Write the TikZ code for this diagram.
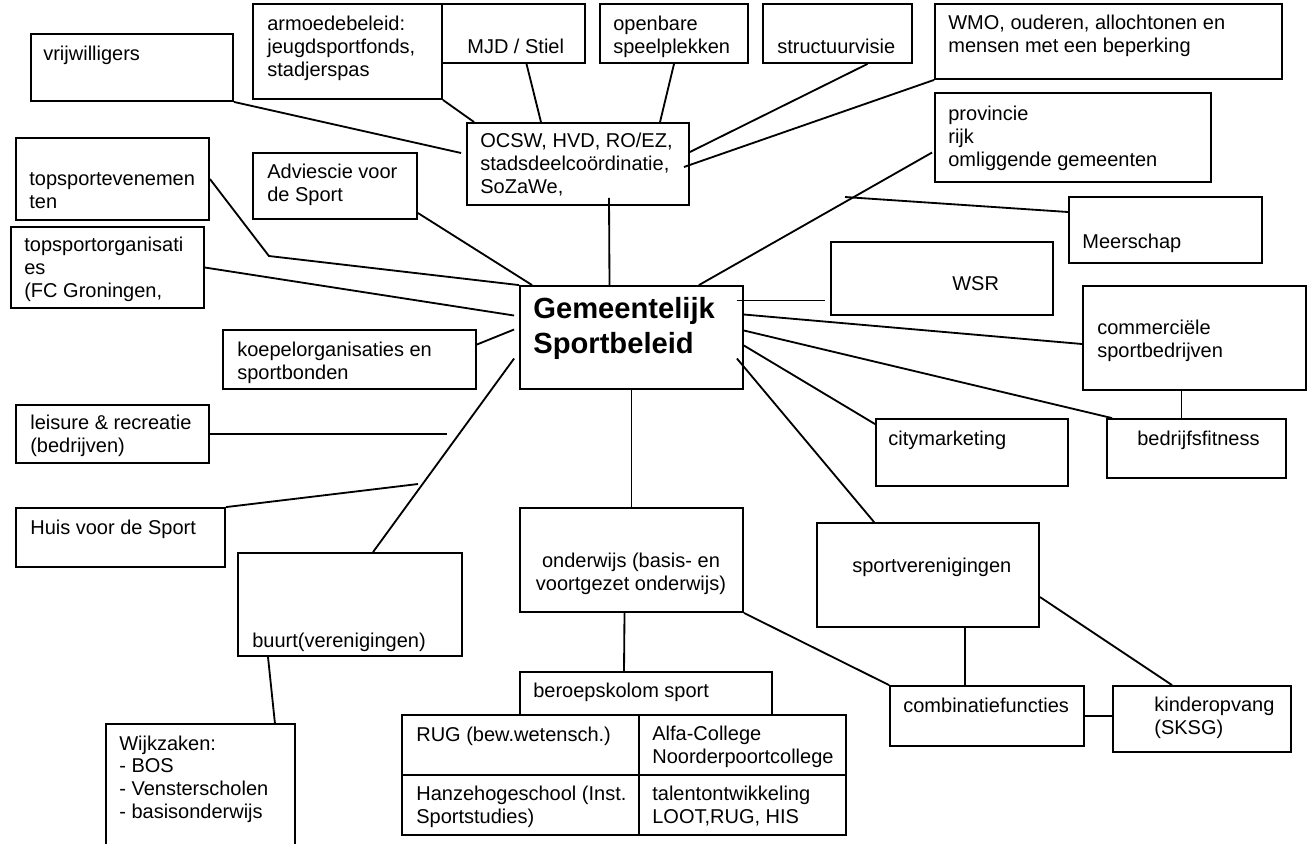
\documentclass[tikz,border=0pt]{standalone}
\usepackage{fontspec}
\setmainfont{Liberation Sans}
\usetikzlibrary{fit}

\tikzset{
  box/.style={draw, line width=1.1pt, inner sep=0pt},
  txt/.style={anchor=base west, inner sep=0pt, align=left,
    font=\fontsize{12pt}{13.6pt}\selectfont},
  link/.style={line width=1.1pt},
}

\begin{document}
\begin{tikzpicture}[x=0.6pt, y=-0.6pt]
  \useasboundingbox (0,0) rectangle (1313,843);
  \fill[white] (0,0) rectangle (1313,843);

  % kaders
  \node[box, fit={(31,34) (233,101)}] (vrij) {};
  \node[box, fit={(253,4) (442,99)}] (arm) {};
  \node[box, fit={(442,4) (585,63)}] (mjd) {};
  \node[box, fit={(600,4) (748,63)}] (open) {};
  \node[box, fit={(763,4) (912,63)}] (struc) {};
  \node[box, fit={(935,4) (1282,79)}] (wmo) {};
  \node[box, fit={(467,123) (689,205)}] (ocsw) {};
  \node[box, fit={(935,93) (1211,182)}] (prov) {};
  \node[box, fit={(253,153) (417,219)}] (adv) {};
  \node[box, fit={(16,138) (209,220)}] (tev) {};
  \node[box, fit={(11,227) (204,308)}] (tor) {};
  \node[box, fit={(1069,197) (1262,263)}] (meer) {};
  \node[box, fit={(831,242) (1053,315)}] (wsr) {};
  \node[box, fit={(520,286) (743,389)}] (gem) {};
  \node[box, fit={(1083,286) (1306,390)}] (comm) {};
  \node[box, fit={(1107,419) (1286,478)}] (fitn) {};
  \node[box, fit={(876,419) (1068,486)}] (city) {};
  \node[box, fit={(223,330) (476,389)}] (koe) {};
  \node[box, fit={(16,405) (209,463)}] (leis) {};
  \node[box, fit={(16,508) (225,567)}] (huis) {};
  \node[box, fit={(238,553) (462,656)}] (buurt) {};
  \node[box, fit={(106,724) (295,860)}] (wijk) {};
  \node[box, fit={(520,508) (743,612)}] (ond) {};
  \node[box, fit={(817,523) (1039,627)}] (sv) {};
  \node[box, fit={(520,672) (772,715)}] (ber) {};
  \node[box, fit={(402,715) (639,775)}] (rug) {};
  \node[box, fit={(639,715) (846,775)}] (alfa) {};
  \node[box, fit={(402,775) (639,835)}] (hanze) {};
  \node[box, fit={(639,775) (846,835)}] (talent) {};
  \node[box, fit={(890,686) (1084,746)}] (comb) {};
  \node[box, fit={(1113,686) (1291,752)}] (kin) {};

  % teksten (bij meer regels: basislijn van de laatste regel)
  \node[txt] (vrij-t) at (43,60) {vrijwilligers};
  \node[txt] (arm-t) at (267,76) {armoedebeleid:\\jeugdsportfonds,\\stadjerspas};
  \node[txt] (mjd-t) at (467,53) {MJD / Stiel};
  \node[txt] (open-t) at (613,53) {openbare\\speelplekken};
  \node[txt] (struc-t) at (777,53) {structuurvisie};
  \node[txt] (wmo-t) at (948,52) {WMO, ouderen, allochtonen en\\mensen met een beperking};
  \node[txt] (ocsw-t) at (480,193) {OCSW, HVD, RO/EZ,\\stadsdeelcoördinatie,\\SoZaWe,};
  \node[txt] (prov-t) at (948,166) {provincie\\rijk\\omliggende gemeenten};
  \node[txt] (adv-t) at (267,201) {Adviescie voor\\de Sport};
  \node[txt] (tev-t) at (29,208) {topsportevenemen\\ten};
  \node[txt] (tor-t) at (24,297) {topsportorganisati\\es\\(FC Groningen,};
  \node[txt] (meer-t) at (1082,248) {Meerschap};
  \node[txt] (wsr-t) at (952,290) {WSR};
  \node[txt, font=\bfseries\fontsize{17.5pt}{21pt}\selectfont] (gem-t) at (533,353) {Gemeentelijk\\Sportbeleid};
  \node[txt] (comm-t) at (1097,357) {commerciële\\sportbedrijven};
  \node[txt] (fitn-t) at (1137,445) {bedrijfsfitness};
  \node[txt] (city-t) at (888,445) {citymarketing};
  \node[txt] (koe-t) at (237,379) {koepelorganisaties en\\sportbonden};
  \node[txt] (leis-t) at (30,452) {leisure \& recreatie\\(bedrijven)};
  \node[txt] (huis-t) at (30,534) {Huis voor de Sport};
  \node[txt] (buurt-t) at (252,647) {buurt(verenigingen)};
  \node[txt] (wijk-t) at (119,818) {Wijkzaken:\\- BOS\\- Vensterscholen\\- basisonderwijs};
  \node[txt, anchor=base, align=center] (ond-t) at (631,590) {onderwijs (basis- en\\voortgezet onderwijs)};
  \node[txt] (sv-t) at (852,572) {sportverenigingen};
  \node[txt] (ber-t) at (533,697) {beroepskolom sport};
  \node[txt] (rug-t) at (416,741) {RUG (bew.wetensch.)};
  \node[txt] (alfa-t) at (652,763) {Alfa-College\\Noorderpoortcollege};
  \node[txt] (hanze-t) at (416,823) {Hanzehogeschool (Inst.\\Sportstudies)};
  \node[txt] (talent-t) at (652,823) {talentontwikkeling\\LOOT,RUG, HIS};
  \node[txt] (comb-t) at (903,712) {combinatiefuncties};
  \node[txt] (kin-t) at (1154,734) {kinderopvang\\(SKSG)};

  % losse eindpunten
  \coordinate (meer-end) at (845,197);
  \coordinate (leis-end) at (447,434);
  \coordinate (huis-end) at (418,484);

  % lijnen
  \draw[link] (vrij.south east) -- ([shift={(-5,-11)}]ocsw.west);
  \draw[link] (arm.south east) -- ([shift={(8,0)}]ocsw.north west);
  \draw[link] ([shift={(13,0)}]mjd.south) -- ([shift={(-37,0)}]ocsw.north);
  \draw[link] (open.south) -- ([shift={(82,0)}]ocsw.north);
  \draw[link] ([shift={(30,0)}]struc.south) -- ([shift={(0,-12)}]ocsw.east);
  \draw[link] (wmo.south west) -- ([shift={(-6,3)}]ocsw.east);
  \draw[link] ([shift={(31,-8)}]ocsw.south) -- ([shift={(-22,0)}]gem.north);
  \draw[link] ([shift={(-2,15)}]prov.west) -- ([shift={(-45,0)}]gem.north east);
  \draw[link] (meer-end) -- ([shift={(0,-18)}]meer.west);
  \draw[link] ([shift={(-7,-37)}]gem.east) -- ([shift={(-5,22)}]wsr.west);
  \draw[link] ([shift={(0,-23)}]gem.east) -- ([shift={(0,6)}]comm.west);
  \draw[link] ([shift={(0,-7)}]gem.east) -- ([shift={(6,0)}]fitn.north west);
  \draw[link] ([shift={(0,8)}]gem.east) -- ([shift={(0,6)}]city.north west);
  \draw[link] ([shift={(-7,21)}]gem.east) -- ([shift={(58,0)}]sv.north west);
  \draw[link] (gem.south) -- (ond.north);
  \draw[link] ([shift={(-13,0)}]comm.south) -- ([shift={(-15,0)}]fitn.north);
  \draw[link] (tev.east) -- ++(59,77) -- (gem.north west);
  \draw[link] (tor.east) -- ([shift={(-5,-22)}]gem.west);
  \draw[link] ([shift={(0,27)}]adv.east) -- ([shift={(13,0)}]gem.north west);
  \draw[link] ([shift={(0,-15)}]koe.east) -- ([shift={(-5,-8)}]gem.west);
  \draw[link] (leis.east) -- (leis-end);
  \draw[link] (huis.north east) -- (huis-end);
  \draw[link] ([shift={(23,0)}]buurt.north) -- ([shift={(-5,21)}]gem.west);
  \draw[link] ([shift={(-82,0)}]buurt.south) -- ([shift={(-21,0)}]wijk.north east);
  \draw[link] ([shift={(-7,0)}]ond.south) -- ([shift={(-22,0)}]ber.north);
  \draw[link] (ond.south east) -- (comb.north west);
  \draw[link] ([shift={(37,0)}]sv.south) -- ([shift={(-22,0)}]comb.north);
  \draw[link] ([shift={(0,22)}]sv.east) -- ([shift={(-30,0)}]kin.north);
  \draw[link] (comb.east) -- (comb.east -| kin.west);
\end{tikzpicture}
\end{document}
